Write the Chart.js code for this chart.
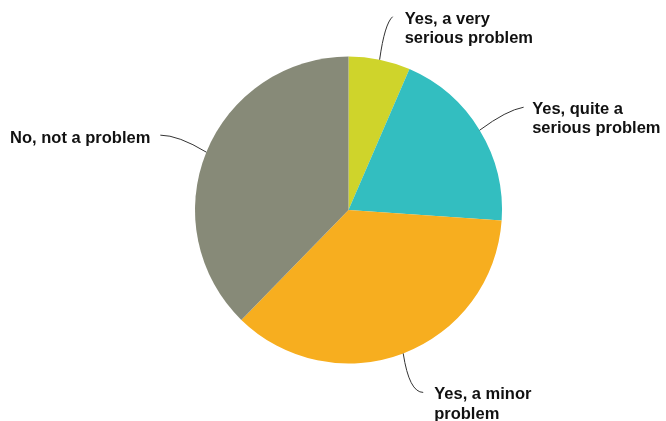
<!DOCTYPE html>
<html>
<head>
<meta charset="utf-8">
<script src="https://cdn.jsdelivr.net/npm/chart.js@4.4.1/dist/chart.umd.min.js"></script>
<style>
  html, body { margin: 0; padding: 0; background: #fff; }
  #wrap { width: 666px; height: 421px; position: relative; }
</style>
</head>
<body>
<div id="wrap"><canvas id="pie-chart"></canvas></div>
<script>
// Відповіді на питання, частки у відсотках
const answers = [
  ['Yes, a very', 'serious problem'],
  ['Yes, quite a', 'serious problem'],
  ['Yes, a minor', 'problem'],
  ['No, not a problem']
];
const shares = [6.5, 19.6, 36.2, 37.7];
const sliceColors = ['#cfd42b', '#33bec0', '#f7ae1f', '#878a78'];

// Винесення підписів: кінець лінії, контрольна точка кривої та зсув тексту
// (усе відносно точки на краю сектора посередині дуги)
const calloutLayout = [
  { ctrl: [5, -36], end: [13, -43], text: [12, 7], align: 'left' },
  { ctrl: [27, -20], end: [44, -23], text: [8.5, 6.5], align: 'left' },
  { ctrl: [6, 39], end: [20, 39], text: [11, 7], align: 'left' },
  { ctrl: [-28, -17], end: [-46, -17], text: [-10, 7.5], align: 'right' }
];
const lineStep = 19.5;

const calloutPlugin = {
  id: 'callouts',
  afterDraw(chart) {
    const ctx = chart.ctx;
    const arcs = chart.getDatasetMeta(0).data;
    ctx.save();
    ctx.font = 'bold 16.5px "Liberation Sans", Arial, sans-serif';
    ctx.textBaseline = 'alphabetic';
    arcs.forEach((arc, i) => {
      const p = arc.getProps(['x', 'y', 'startAngle', 'endAngle', 'outerRadius'], true);
      const mid = (p.startAngle + p.endAngle) / 2;
      const ex = p.x + Math.cos(mid) * p.outerRadius;
      const ey = p.y + Math.sin(mid) * p.outerRadius;
      const lay = calloutLayout[i];
      const tx = ex + lay.end[0];
      const ty = ey + lay.end[1];

      ctx.strokeStyle = '#333';
      ctx.lineWidth = 1;
      ctx.beginPath();
      ctx.moveTo(ex, ey);
      ctx.quadraticCurveTo(ex + lay.ctrl[0], ey + lay.ctrl[1], tx, ty);
      ctx.stroke();

      ctx.fillStyle = '#111';
      ctx.textAlign = lay.align;
      answers[i].forEach((line, k) => {
        ctx.fillText(line, tx + lay.text[0], ty + lay.text[1] + k * lineStep);
      });
    });
    ctx.restore();
  }
};

const ctx = document.getElementById('pie-chart').getContext('2d');
new Chart(ctx, {
  type: 'pie',
  data: {
    labels: answers.map(a => a.join(' ')),
    datasets: [{
      data: shares,
      backgroundColor: sliceColors,
      borderWidth: 0,
      hoverOffset: 0
    }]
  },
  options: {
    responsive: true,
    maintainAspectRatio: false,
    animation: false,
    layout: {
      padding: { left: 195, right: 164, top: 56.5, bottom: 57.5 }
    },
    plugins: {
      legend: { display: false },
      tooltip: { enabled: false }
    }
  },
  plugins: [calloutPlugin]
});
</script>
</body>
</html>
